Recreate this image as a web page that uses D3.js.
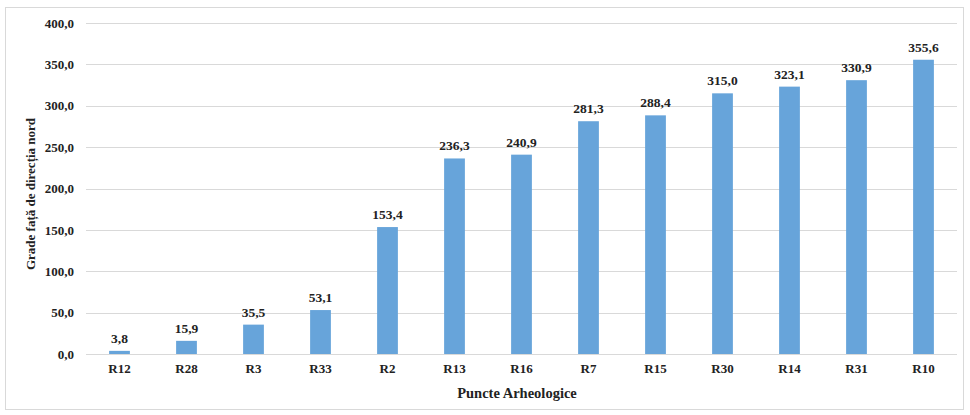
<!DOCTYPE html>
<html>
<head>
<meta charset="utf-8">
<script src="https://cdn.jsdelivr.net/npm/d3@7"></script>
<style>
  html, body { margin: 0; padding: 0; background: #fff; }
  svg text { font-family: "Liberation Serif", "Times New Roman", serif; font-weight: bold; fill: #222; }
</style>
</head>
<body>
<svg id="chart" width="970" height="415"></svg>
<script>
// Puncte arheologice, ordonate după unghiul față de direcția nord
const categories = ["R12", "R28", "R3", "R33", "R2", "R13", "R16", "R7", "R15", "R30", "R14", "R31", "R10"];
const values = [3.8, 15.9, 35.5, 53.1, 153.4, 236.3, 240.9, 281.3, 288.4, 315.0, 323.1, 330.9, 355.6];
const yTicks = [0, 50, 100, 150, 200, 250, 300, 350, 400];
const xTitle = "Puncte Arheologice";
const yTitle = "Grade față de direcția nord";

const svg = d3.select("#chart");
const W = 970, H = 415;
const margin = { top: 23, right: 13, bottom: 61, left: 86 };
const innerW = W - margin.left - margin.right;
const innerH = H - margin.top - margin.bottom;

const fmt = v => d3.format(".1f")(v).replace(".", ",");

// chart frame
svg.append("rect")
  .attr("x", 5.5).attr("y", 7.5)
  .attr("width", 958).attr("height", 402)
  .attr("fill", "#fff").attr("stroke", "#d9d9d9").attr("stroke-width", 1);

const g = svg.append("g").attr("transform", `translate(${margin.left},${margin.top})`);

const x = d3.scaleBand().domain(categories).range([0, innerW]).paddingInner(0.69).paddingOuter(0.345);
const y = d3.scaleLinear().domain([0, 400]).range([innerH, 0]);

// horizontal gridlines
g.append("g")
  .selectAll("line")
  .data(yTicks)
  .join("line")
  .attr("x1", 0).attr("x2", innerW)
  .attr("y1", d => Math.round(y(d)) + 0.5).attr("y2", d => Math.round(y(d)) + 0.5)
  .attr("stroke", "#d9d9d9").attr("stroke-width", 1);

// y axis labels
const yAxis = d3.axisLeft(y).tickValues(yTicks).tickFormat(fmt).tickSize(0).tickPadding(12);
g.append("g").call(yAxis)
  .call(s => s.select(".domain").remove())
  .selectAll("text")
  .attr("font-size", 13)
  .style("font-family", "'Liberation Serif', serif").style("font-weight", "bold").attr("fill", "#222");

// x axis labels
const xAxis = d3.axisBottom(x).tickSize(0).tickPadding(10);
g.append("g").attr("transform", `translate(0,${innerH})`).call(xAxis)
  .call(s => s.select(".domain").remove())
  .selectAll("text")
  .attr("font-size", 13)
  .style("font-family", "'Liberation Serif', serif").style("font-weight", "bold").attr("fill", "#222");

// bars
g.append("g")
  .selectAll("rect")
  .data(values)
  .join("rect")
  .attr("x", (d, i) => x(categories[i]))
  .attr("y", d => y(d))
  .attr("width", x.bandwidth())
  .attr("height", d => innerH - y(d))
  .attr("fill", "#67a4da");

// value labels
g.append("g")
  .selectAll("text")
  .data(values)
  .join("text")
  .attr("x", (d, i) => x(categories[i]) + x.bandwidth() / 2)
  .attr("y", d => y(d) - 8)
  .attr("text-anchor", "middle")
  .attr("font-size", 13.5)
  .text(d => fmt(d));

// axis titles
svg.append("text")
  .attr("x", 517)
  .attr("y", 398)
  .attr("text-anchor", "middle")
  .attr("font-size", 14.5)
  .text(xTitle);

svg.append("text")
  .attr("transform", `translate(35,194) rotate(-90)`)
  .attr("text-anchor", "middle")
  .attr("font-size", 13)
  .text(yTitle);
</script>
</body>
</html>
